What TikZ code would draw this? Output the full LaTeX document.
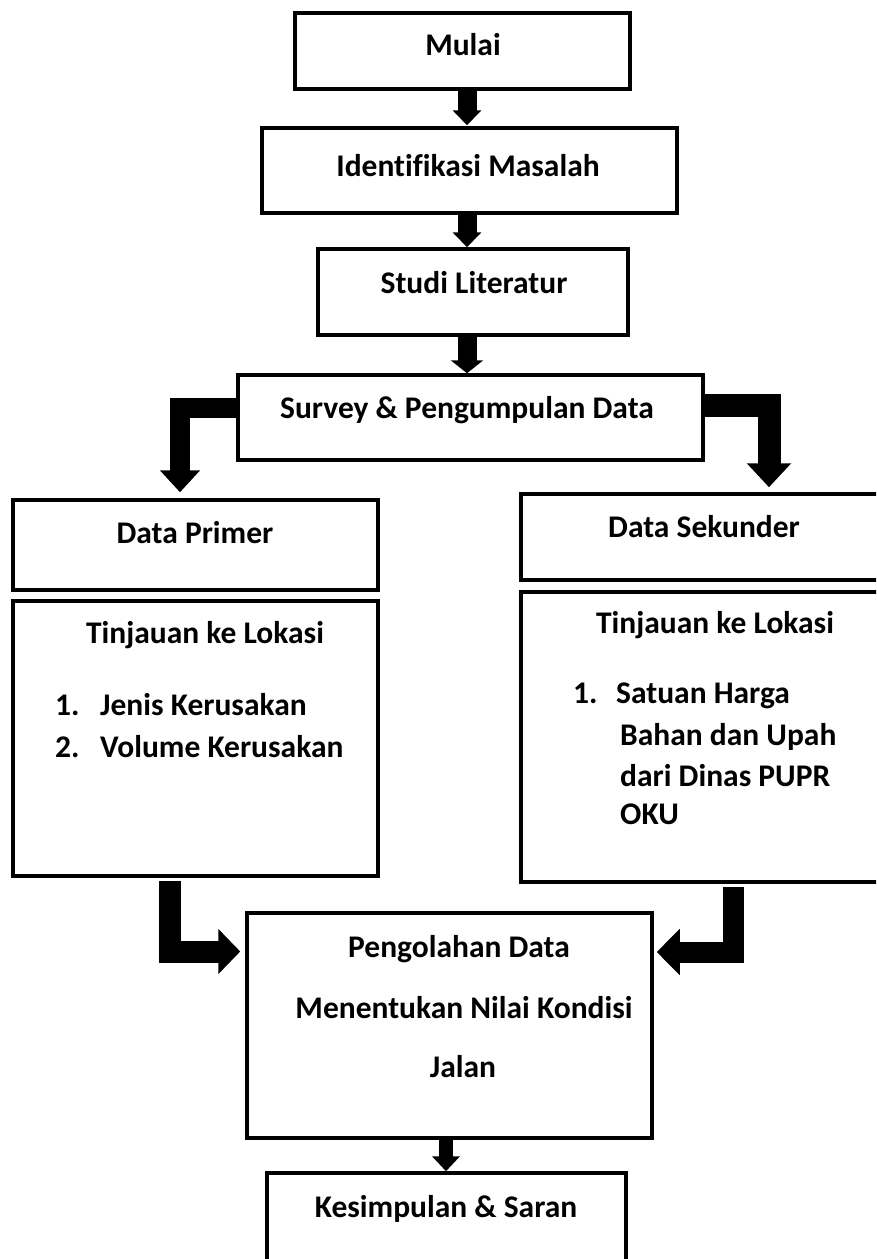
\documentclass[tikz,border=0pt]{standalone}
\usepackage{fontspec}
\setmainfont{Carlito}[Ligatures=CommonOff]
\usetikzlibrary{arrows.meta,calc}
\begin{document}
\begin{tikzpicture}[x=1pt,y=-1pt,
  box/.style={draw=black, line width=3.5pt, rectangle, inner sep=0pt, fill=white},
  txt/.style={font=\fontsize{31.5}{37}\selectfont\bfseries, inner sep=0pt},
  flow/.style={line width=19pt, -{Triangle[width=28pt,length=15pt]}},
  bent/.style={line join=miter}]
\path[use as bounding box] (0,0) rectangle (876,1259);
\clip (0,0) rectangle (876,1259);
\fill[white] (0,0) rectangle (876,1259);

% boxes
\node[box, minimum width=335pt, minimum height=76pt] (mulai) at (462.5,51) {};
\node[box, minimum width=415pt, minimum height=85pt] (ident) at (469.5,170.5) {};
\node[box, minimum width=310pt, minimum height=86pt] (studi) at (473,292) {};
\node[box, minimum width=465pt, minimum height=85pt] (survey) at (470.5,417.5) {};
\node[box, minimum width=365pt, minimum height=90pt] (primer) at (195.5,545) {};
\node[box, minimum width=367pt, minimum height=86pt] (sekunder) at (704.5,537) {};
\node[box, minimum width=365pt, minimum height=275pt] (tinjL) at (195.5,738.5) {};
\node[box, minimum width=367pt, minimum height=290pt] (tinjR) at (704.5,737) {};
\node[box, minimum width=405pt, minimum height=225pt] (olah) at (449.5,1025.5) {};
\node[box, minimum width=359pt, minimum height=100pt] (simpul) at (446.5,1223) {};

% texts
\node[txt, anchor=base] (t1) at (463,55) {Mulai};
\node[txt, anchor=base] (t2) at (468,176) {Identifikasi Masalah};
\node[txt, anchor=base] (t3) at (474,293) {Studi Literatur};
\node[txt, anchor=base] (t4) at (467,418) {Survey \& Pengumpulan Data};
\node[txt, anchor=base] (t5) at (195,543) {Data Primer};
\node[txt, anchor=base] (t6) at (704,537) {Data Sekunder};
\node[txt, anchor=base] (t7) at (205,643) {Tinjauan ke Lokasi};
\node[txt, anchor=base west] (t8a) at (55,715) {1.};
\node[txt, anchor=base west] (t8b) at (100,715) {Jenis Kerusakan};
\node[txt, anchor=base west] (t9a) at (55,757) {2.};
\node[txt, anchor=base west] (t9b) at (100,757) {Volume Kerusakan};
\node[txt, anchor=base] (t10) at (715,633) {Tinjauan ke Lokasi};
\node[txt, anchor=base west] (t11a) at (573,703) {1.};
\node[txt, anchor=base west] (t11b) at (616,703) {Satuan Harga};
\node[txt, anchor=base west] (t12) at (620,745) {Bahan dan Upah};
\node[txt, anchor=base west] (t13) at (620,786) {dari Dinas PUPR};
\node[txt, anchor=base west] (t14) at (620,824) {OKU};
\node[txt, anchor=base] (t15) at (459,957) {Pengolahan Data};
\node[txt, anchor=base] (t16) at (464,1018) {Menentukan Nilai Kondisi};
\node[txt, anchor=base] (t17) at (463,1077) {Jalan};
\node[txt, anchor=base] (t18) at (446,1217) {Kesimpulan \& Saran};

% straight arrows
\coordinate (ax) at (467,0);
\coordinate (bx) at (446,0);
\draw[flow] (ax |- mulai.south) -- ($(ax |- ident.north)+(0,-1)$);
\draw[flow] (ax |- ident.south) -- (ax |- studi.north);
\draw[flow, -{Triangle[width=32pt,length=13pt]}] (ax |- studi.south) -- (ax |- survey.north);
\draw[line width=14pt, -{Triangle[width=27pt,length=15pt]}] (bx |- olah.south) -- (bx |- simpul.north);

% bent arrows
\coordinate (l1y) at (0,408);
\coordinate (l1x) at (180,0);
\draw[bent, line width=20pt, -{Triangle[width=39pt,length=22pt]}]
  (survey.west |- l1y) -| ($(l1x |- primer.north)+(0,-6)$);
\coordinate (r1y) at (0,405);
\coordinate (r1x) at (769,0);
\draw[bent, line width=23pt, -{Triangle[width=43pt,length=24pt]}]
  (survey.east |- r1y) -| ($(r1x |- sekunder.north)+(0,-5)$);
\coordinate (l2x) at (169.5,0);
\coordinate (l2y) at (0,951.5);
\draw[bent, line width=22pt, -{Triangle[width=44pt,length=22pt]}]
  ($(l2x |- tinjL.south)+(0,3)$) |- ($(olah.west |- l2y)+(-5,0)$);
\coordinate (r2x) at (733.5,0);
\coordinate (r2y) at (0,952);
\draw[bent, line width=21pt, -{Triangle[width=45pt,length=23pt]}]
  ($(r2x |- tinjR.south)+(0,3)$) |- ($(olah.east |- r2y)+(3,0)$);
\end{tikzpicture}
\end{document}
